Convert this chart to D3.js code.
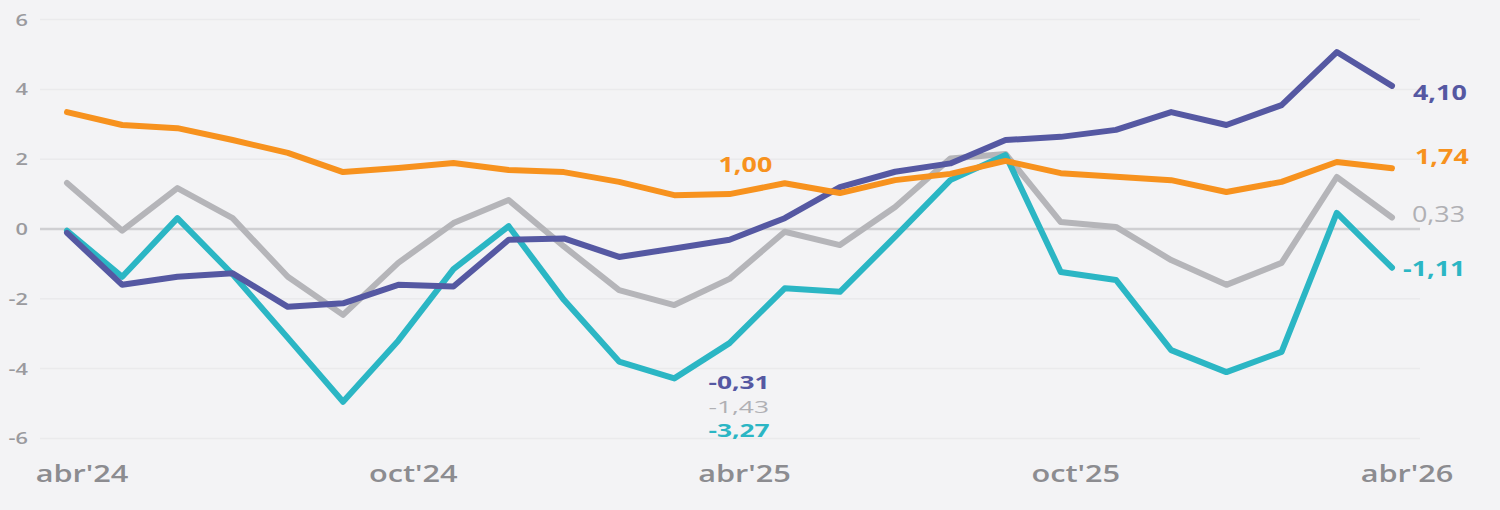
<!DOCTYPE html>
<html>
<head>
<meta charset="utf-8">
<script src="https://cdn.jsdelivr.net/npm/d3@7"></script>
<style>
  html, body { margin: 0; padding: 0; background: #f3f3f5; }
  svg { display: block; }
  text { font-family: "Open Sans", sans-serif; }
</style>
</head>
<body>
<svg id="chart" width="1500" height="510"></svg>
<script>
// months abr'24 .. abr'26
const months = ["abr'24","may'24","jun'24","jul'24","ago'24","sep'24","oct'24","nov'24","dic'24",
  "ene'25","feb'25","mar'25","abr'25","may'25","jun'25","jul'25","ago'25","sep'25","oct'25",
  "nov'25","dic'25","ene'26","feb'26","mar'26","abr'26"];
const tickMonths = ["abr'24","oct'24","abr'25","oct'25","abr'26"];
const yTicks = [-6, -4, -2, 0, 2, 4, 6];

const orange = [3.35, 2.98, 2.89, 2.55, 2.18, 1.63, 1.75, 1.89, 1.69, 1.63, 1.35, 0.97, 1.00,
  1.31, 1.03, 1.40, 1.58, 1.95, 1.60, 1.50, 1.40, 1.06, 1.35, 1.92, 1.74];
const gray = [1.32, -0.05, 1.17, 0.31, -1.37, -2.46, -0.97, 0.17, 0.83, -0.50, -1.75, -2.18, -1.43,
  -0.08, -0.46, 0.63, 2.02, 2.15, 0.20, 0.06, -0.89, -1.60, -0.97, 1.49, 0.33];
const teal = [-0.05, -1.37, 0.31, -1.30, -3.12, -4.95, -3.20, -1.15, 0.08, -2.03, -3.80, -4.28, -3.27,
  -1.70, -1.80, -0.22, 1.40, 2.12, -1.23, -1.46, -3.47, -4.10, -3.52, 0.46, -1.11];
const blue = [-0.11, -1.60, -1.37, -1.27, -2.23, -2.13, -1.60, -1.65, -0.31, -0.27, -0.80, -0.56, -0.31,
  0.31, 1.20, 1.64, 1.88, 2.55, 2.64, 2.84, 3.35, 2.98, 3.55, 5.07, 4.10];

const series = [
  { name: "gray", values: gray, color: "#b5b5b9" },
  { name: "teal", values: teal, color: "#2bb6c4" },
  { name: "blue", values: blue, color: "#5558a2" },
  { name: "orange", values: orange, color: "#f7921e" }
];

const svg = d3.select('#chart');
const stretch = 1.28;

const x = d3.scalePoint().domain(months).range([67, 1392]);
const y = d3.scaleLinear().domain([-6, 6]).range([438.4, 19.6]);

// grid
svg.append('g')
  .selectAll('line')
  .data(yTicks)
  .join('line')
  .attr('x1', 40)
  .attr('x2', 1420)
  .attr('y1', d => y(d))
  .attr('y2', d => y(d))
  .attr('stroke', d => d == 0 ? '#cfcfd2' : '#eaeaec')
  .attr('stroke-width', d => d == 0 ? 2.5 : 1.5);

// y tick labels
svg.append('g')
  .selectAll('text')
  .data(yTicks)
  .join('text')
  .attr('transform', d => `translate(28,${y(d) + 6}) scale(${stretch},1)`)
  .attr('text-anchor', 'end')
  .style('font-size', '17px')
  .style('font-weight', '600')
  .style('fill', '#9a9a9e')
  .text(d => d);

// x tick labels
svg.append('g')
  .selectAll('text')
  .data(tickMonths)
  .join('text')
  .attr('transform', d => `translate(${x(d) + 15},482) scale(${stretch},1)`)
  .attr('text-anchor', 'middle')
  .style('font-size', '24px')
  .style('font-weight', '600')
  .style('fill', '#8c8c90')
  .text(d => d);

// lines
const line = d3.line()
  .x((d, i) => x(months[i]))
  .y(d => y(d));

svg.append('g')
  .selectAll('path')
  .data(series)
  .join('path')
  .attr('d', d => line(d.values))
  .attr('fill', 'none')
  .attr('stroke', d => d.color)
  .attr('stroke-width', 6)
  .attr('stroke-linejoin', 'round')
  .attr('stroke-linecap', 'round');

// value labels
const colorOf = {};
series.forEach(s => { colorOf[s.name] = s.color; });

const labels = [
  { s: "blue", i: 24, dx: 21, dy: 14, bold: true },
  { s: "orange", i: 24, dx: 23, dy: -4, bold: true },
  { s: "gray", i: 24, dx: 20, dy: 5, bold: false },
  { s: "teal", i: 24, dx: 11, dy: 8, bold: true },
  { s: "orange", i: 12, dx: -11, dy: -22, bold: true }
];
const seriesByName = {};
series.forEach(s => { seriesByName[s.name] = s; });

// comma decimals, plain hyphen for minus
function fmt(v) {
  return v.toFixed(2).replace('.', ',');
}

svg.append('g')
  .selectAll('text')
  .data(labels)
  .join('text')
  .attr('transform', d => {
    const v = seriesByName[d.s].values[d.i];
    return `translate(${x(months[d.i]) + d.dx},${y(v) + d.dy}) scale(${stretch},1)`;
  })
  .style('font-size', '21px')
  .style('font-weight', d => d.bold ? '700' : '400')
  .style('fill', d => d.s == 'gray' ? '#b0b0b4' : colorOf[d.s])
  .text(d => fmt(seriesByName[d.s].values[d.i]));

// stacked labels under abr'25
const stack = [
  { s: "blue", bold: true, base: 389 },
  { s: "gray", bold: false, base: 413 },
  { s: "teal", bold: true, base: 437 }
];
svg.append('g')
  .selectAll('text')
  .data(stack)
  .join('text')
  .attr('transform', d => `translate(${x(months[12]) - 21},${d.base}) scale(1.55,1)`)
  .style('font-size', '17px')
  .style('font-weight', d => d.bold ? '700' : '400')
  .style('fill', d => d.s == 'gray' ? '#b0b0b4' : colorOf[d.s])
  .text(d => fmt(seriesByName[d.s].values[12]));
</script>
</body>
</html>
